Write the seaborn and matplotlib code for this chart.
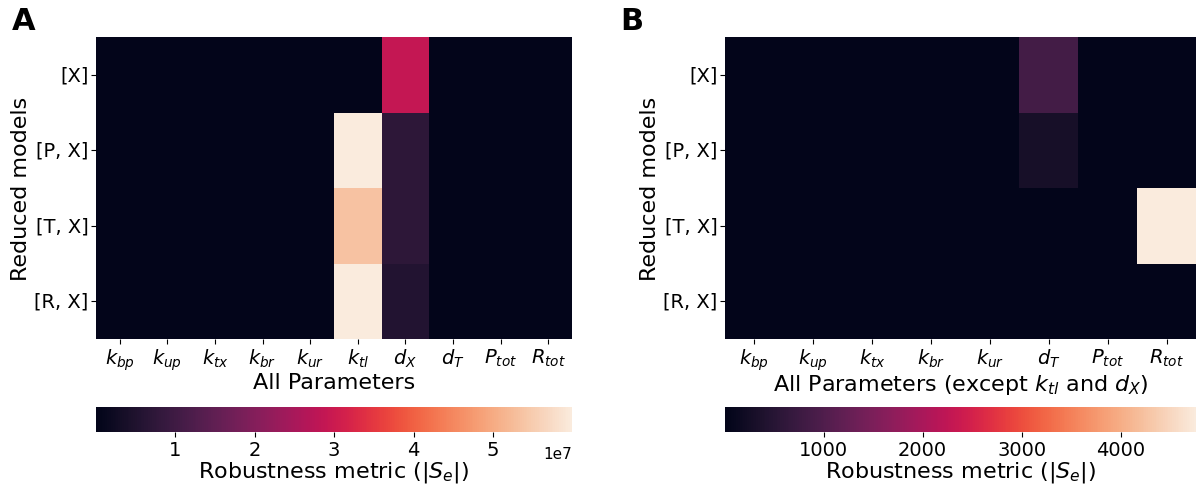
import numpy as np
import pandas as pd
import matplotlib
matplotlib.use("Agg")
import matplotlib.pyplot as plt
import seaborn as sns

# Reduced models (rows) and parameters (columns)
models = ["[X]", "[P, X]", "[T, X]", "[R, X]"]
params_all = [r"$k_{bp}$", r"$k_{up}$", r"$k_{tx}$", r"$k_{br}$", r"$k_{ur}$",
              r"$k_{tl}$", r"$d_X$", r"$d_T$", r"$P_{tot}$", r"$R_{tot}$"]
params_sub = [r"$k_{bp}$", r"$k_{up}$", r"$k_{tx}$", r"$k_{br}$", r"$k_{ur}$",
              r"$d_T$", r"$P_{tot}$", r"$R_{tot}$"]

# Robustness metric |S_e| for all parameters
se_x = [6e4, 6e4, 6e4, 6e4, 6e4, 6e4, 2.9e7, 6e4, 6e4, 6e4]
se_px = [6e4, 6e4, 6e4, 6e4, 6e4, 5.99e7, 0.72e7, 6e4, 6e4, 6e4]
se_tx = [6e4, 6e4, 6e4, 6e4, 6e4, 5.35e7, 0.72e7, 6e4, 6e4, 6e4]
se_rx = [6e4, 6e4, 6e4, 6e4, 6e4, 5.99e7, 0.55e7, 6e4, 6e4, 6e4]

# Robustness metric |S_e| excluding k_tl and d_X
sub_x = [5, 5, 5, 5, 5, 850, 5, 5]
sub_px = [5, 5, 5, 5, 5, 300, 5, 5]
sub_tx = [5, 5, 5, 5, 5, 5, 5, 4760]
sub_rx = [5, 5, 5, 5, 5, 5, 5, 5]

df_all = pd.DataFrame([se_x, se_px, se_tx, se_rx], index=models, columns=params_all)
df_sub = pd.DataFrame([sub_x, sub_px, sub_tx, sub_rx], index=models, columns=params_sub)

plt.rcParams["font.family"] = ["DejaVu Sans"]
plt.rcParams["mathtext.fontset"] = "dejavusans"

W, H = 1196, 489
fig = plt.figure(figsize=(W / 100, H / 100), dpi=100)

def box(x0, y0, x1, y1):
    return [x0 / W, 1 - y1 / H, (x1 - x0) / W, (y1 - y0) / H]

ax_a = fig.add_axes(box(96, 38, 572, 340))
cax_a = fig.add_axes(box(96, 408, 572, 433))
ax_b = fig.add_axes(box(725, 38, 1196, 340))
cax_b = fig.add_axes(box(725, 408, 1196, 433))

label = r"Robustness metric ($|S_e|$)"
sns.heatmap(df_all, ax=ax_a, cmap="rocket", cbar_ax=cax_a,
            cbar_kws={"orientation": "horizontal"})
sns.heatmap(df_sub, ax=ax_b, cmap="rocket", cbar_ax=cax_b,
            cbar_kws={"orientation": "horizontal"})

for ax, xlabel in [(ax_a, "All Parameters"),
                   (ax_b, r"All Parameters (except $k_{tl}$ and $d_X$)")]:
    ax.set_xlabel(xlabel, fontsize=16, labelpad=0)
    ax.set_ylabel("Reduced models", fontsize=16, labelpad=2)
    ax.tick_params(axis="x", labelsize=14, rotation=0, pad=2)
    ax.tick_params(axis="y", labelsize=14, rotation=0, pad=2)

# Colorbar A: ticks in units of 1e7 with the scale shown at the right end
ticks_a = [1, 2, 3, 4, 5]
cax_a.set_xticks([t * 1e7 for t in ticks_a])
cax_a.set_xticklabels([str(t) for t in ticks_a])
cax_a.text(1.0, -0.55, "1e7", transform=cax_a.transAxes, fontsize=11,
           ha="right", va="top")
ticks_b = [1000, 2000, 3000, 4000]
cax_b.set_xticks(ticks_b)
cax_b.set_xticklabels([str(t) for t in ticks_b])

for cax in (cax_a, cax_b):
    cax.tick_params(labelsize=14, pad=2)
    cax.set_xlabel(label, fontsize=16, labelpad=0)

fig.text(12 / W, 1 - 22 / H, "A", fontsize=22, fontweight="bold", va="center", ha="left")
fig.text(620 / W, 1 - 22 / H, "B", fontsize=22, fontweight="bold", va="center", ha="left")

fig.savefig("out.png", dpi=100)
